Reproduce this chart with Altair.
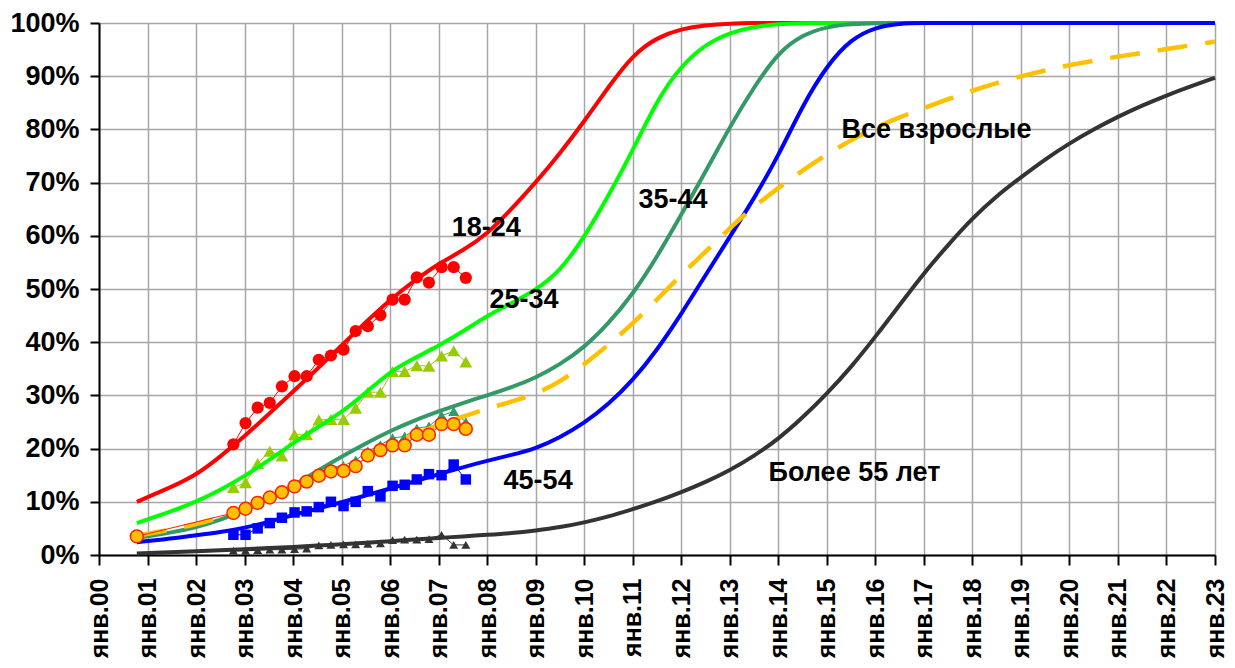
import altair as alt
import pandas as pd

# ---------------- data (percent values) ----------------
CURVE_X = [0.78, 1.5, 2, 2.5, 3, 3.5, 4, 4.5, 5, 5.5, 6, 6.5, 7, 7.5, 8, 8.5, 9, 9.5,
           10, 10.5, 11, 11.5, 12, 12.5, 13, 13.5, 14, 14.5, 15, 15.5, 16, 16.5, 17,
           17.5, 18, 18.5, 19, 19.5, 20, 20.5, 21, 21.5, 22, 22.5, 23]

CURVE_18_24 = [10, 12.8, 15, 18.5, 22.3, 26.5, 30.7, 35, 39.4, 43.8, 48, 51.6, 54.8, 57.2,
               60.3, 65, 70, 75.5, 81.5, 88, 94, 97.3, 98.9, 99.6, 99.9,
               100, 100, 100, 100, 100, 100, 100, 100, 100, 100, 100, 100, 100, 100, 100,
               100, 100, 100, 100, 100]
CURVE_25_34 = [6, 8.2, 10, 12.2, 14.8, 17.8, 21, 24, 26.8, 30.5, 34.5, 37, 39.3, 42, 45,
               47.3, 49.8, 53.3, 59.7, 67.5, 76, 85.5, 92, 96, 98.2,
               99.3, 99.8, 100, 100, 100, 100, 100, 100, 100, 100, 100, 100, 100, 100, 100,
               100, 100, 100, 100, 100]
CURVE_35_44 = [3.2, 4.2, 5.2, 6.6, 8.4, 10.5, 13, 15.8, 18.5, 21, 23.3, 25.3, 27, 28.6, 30,
               31.5, 33.3, 35.8, 39, 43.5, 49, 56, 64, 72, 80.5,
               88, 94.5, 97.8, 99.3, 99.8, 100, 100, 100, 100, 100, 100, 100, 100, 100, 100,
               100, 100, 100, 100, 100]
CURVE_45_54 = [2.4, 3.1, 3.7, 4.3, 5.1, 6.2, 7.5, 8.7, 9.9, 11.2, 12.5, 13.8, 15.2, 16.5,
               17.7, 18.8, 20, 22.1, 24.8, 28.3, 32.8, 38.5, 45.3, 52.6, 59.8,
               67, 75, 84.5, 92, 97, 99.2, 99.9, 100, 100, 100, 100, 100, 100, 100, 100,
               100, 100, 100, 100, 100]
CURVE_55 = [0.3, 0.5, 0.7, 0.9, 1.1, 1.3, 1.5, 1.8, 2.0, 2.3, 2.6, 2.9, 3.2, 3.5, 3.8, 4.1,
            4.6, 5.2, 6.1, 7.2, 8.6, 10.1, 11.8, 13.7, 15.9,
            18.6, 21.8, 25.8, 30.3, 35.3, 41, 47, 53, 58.3, 63.3, 67.5, 71, 74.4, 77.4, 80,
            82.4, 84.5, 86.4, 88.1, 89.7]
CURVE_ALL = [3.6, 4.8, 5.8, 7, 8.8, 10.5, 12.7, 14.6, 16.5, 18.7, 20.8, 22.7, 24.5, 26,
             27.5, 28.8, 30.3, 32.5, 35.8, 39.5, 43.5, 48, 52.7, 57, 61.5,
             65.5, 69, 72.3, 75.3, 78, 80.3, 82.3, 84, 85.7, 87.3, 88.7, 90, 91.1, 92.1, 92.9,
             93.7, 94.4, 95.1, 95.8, 96.5]

SCATTER_X = [2.77, 3.02, 3.27, 3.52, 3.77, 4.03, 4.28, 4.53, 4.78, 5.04, 5.29, 5.54, 5.80,
             6.05, 6.30, 6.55, 6.80, 7.06, 7.31, 7.56]
PTS_18_24 = [20.8, 24.8, 27.7, 28.6, 31.7, 33.6, 33.6, 36.7, 37.5, 38.6, 42.1, 43, 45.1, 48,
             48, 52.2, 51.2, 54.1, 54.1, 52.1]
PTS_25_34 = [12.7, 13.6, 17.2, 19.5, 18.6, 22.6, 22.6, 25.4, 25.5, 25.5, 27.6, 30.6, 30.6,
             34.5, 34.5, 35.6, 35.5, 37.4, 38.4, 36.3]
PTS_35_44 = [8.3, 9.2, 10.2, 11.2, 12.2, 13.3, 14.2, 15.5, 16.5, 16.8, 17.8, 19.5, 20.7, 22,
             22.3, 23.8, 24.2, 26.2, 27, 25]
PTS_45_54 = [3.8, 3.8, 5, 6, 7, 8, 8.2, 9, 10, 9.2, 10, 12, 11, 13, 13.2, 14.2, 15.2, 15, 17,
             14.2]
PTS_55 = [0.8, 0.8, 0.9, 1.0, 1.0, 1.1, 1.2, 1.8, 1.9, 2.0, 2.0, 2.1, 2.2, 2.8, 2.9, 2.9,
          3.0, 3.8, 1.9, 1.9]
ALL_X = [0.78, 2.77, 3.02, 3.27, 3.52, 3.77, 4.03, 4.28, 4.53, 4.78, 5.04, 5.29, 5.54, 5.80,
         6.05, 6.30, 6.55, 6.80, 7.06, 7.31, 7.56]
PTS_ALL = [3.5, 7.9, 8.7, 9.8, 10.8, 11.8, 12.9, 13.8, 14.9, 15.7, 15.8, 16.7, 18.7, 19.7,
           20.6, 20.6, 22.6, 22.6, 24.6, 24.6, 23.7]

LABELS = ["18-24", "25-34", "35-44", "45-54", "Все взрослые", "Более 55 лет"]
LABEL_X = [7.98, 8.76, 11.83, 9.05, 17.26, 15.57]
LABEL_Y = [61.5, 47.9, 66.7, 13.9, 79.9, 15.4]

YEAR_TICKS = list(range(0, 24))
PCT_TICKS = [0, 0.1, 0.2, 0.3, 0.4, 0.5, 0.6, 0.7, 0.8, 0.9, 1.0]

FONT = "Liberation Sans"

# ---------------- tables ----------------
solid_names = ["18-24", "25-34", "35-44", "45-54", "55+"]
solid_vals = [CURVE_18_24, CURVE_25_34, CURVE_35_44, CURVE_45_54, CURVE_55]
solid_cols = ["#ff0000", "#00ff00", "#339966", "#0000ff", "#333333"]
curves = pd.concat([
    pd.DataFrame({"x": CURVE_X, "y": [v / 100 for v in vals], "s": n})
    for n, vals in zip(solid_names, solid_vals)
])
dashed = pd.DataFrame({"x": CURVE_X, "y": [v / 100 for v in CURVE_ALL]})


def pts(xs, vals):
    return pd.DataFrame({"x": xs, "y": [v / 100 for v in vals]})


labels = pd.DataFrame({"x": LABEL_X, "y": [v / 100 for v in LABEL_Y], "t": LABELS})

X_AX = alt.Axis(values=YEAR_TICKS, labelAngle=270,
                labelExpr="'янв.' + (datum.value < 10 ? '0' : '') + datum.value",
                title=None, tickSize=10, labelPadding=13, labelFontSize=25)
Y_AX = alt.Axis(values=PCT_TICKS, format=".0%", title=None, tickSize=9, labelPadding=11,
                labelFontSize=27)
XS = alt.Scale(domain=[0, 23], nice=False, zero=False)
YS = alt.Scale(domain=[0, 1], nice=False)


def enc(ch):
    return ch.encode(x=alt.X("x:Q", scale=XS, axis=X_AX),
                     y=alt.Y("y:Q", scale=YS, axis=Y_AX))


def scatter(df, color, shape, size, fill=None, stroke=None, sw=0):
    line = enc(alt.Chart(df).mark_line(color=stroke or color, strokeWidth=1))
    pt = enc(alt.Chart(df).mark_point(shape=shape, size=size, filled=True,
                                      fill=fill or color, color=fill or color,
                                      stroke=stroke or color, strokeWidth=sw, opacity=1))
    return [line, pt]


layers = []
layers += scatter(pts(SCATTER_X, PTS_55), "#333333", "triangle-up", 80)
layers += scatter(pts(SCATTER_X, PTS_45_54), "#0000ff", "square", 110)
layers += scatter(pts(SCATTER_X, PTS_35_44), "#339966", "triangle-up", 120)
layers += scatter(pts(SCATTER_X, PTS_25_34), "#99cc00", "triangle-up", 165)
layers += scatter(pts(SCATTER_X, PTS_18_24), "#ff0000", "circle", 150)

solid = enc(alt.Chart(curves).mark_line(strokeWidth=4, interpolate="basis")).encode(
    color=alt.Color("s:N", scale=alt.Scale(domain=solid_names, range=solid_cols), legend=None)
)
dash = enc(alt.Chart(dashed).mark_line(strokeWidth=4.5, color="#ffc000",
                                       strokeDash=[30, 18], interpolate="basis"))
layers += [solid, dash]
layers += scatter(pts(ALL_X, PTS_ALL), "#ffc000", "circle", 165, fill="#ffc000",
                  stroke="#ff2000", sw=1.5)

text = enc(alt.Chart(labels).mark_text(font=FONT, fontSize=27, fontWeight="bold",
                                       color="#000000", align="center",
                                       baseline="middle")).encode(text="t:N")
layers.append(text)

chart = alt.layer(*layers).properties(
    width=1116, height=532,
    autosize=alt.AutoSizeParams(type="none"),
    padding={"left": 91, "top": 15, "right": 12, "bottom": 105},
).configure_view(strokeWidth=0).configure_axis(
    labelFont=FONT, labelFontWeight="bold", labelColor="#000000",
    domainColor="#000000", domainWidth=2, tickColor="#000000", tickWidth=2,
    gridColor="#a6a6a6", gridWidth=1.5, gridOpacity=1,
)

chart.save("out.html", embed_options={"renderer": "svg", "actions": False})
